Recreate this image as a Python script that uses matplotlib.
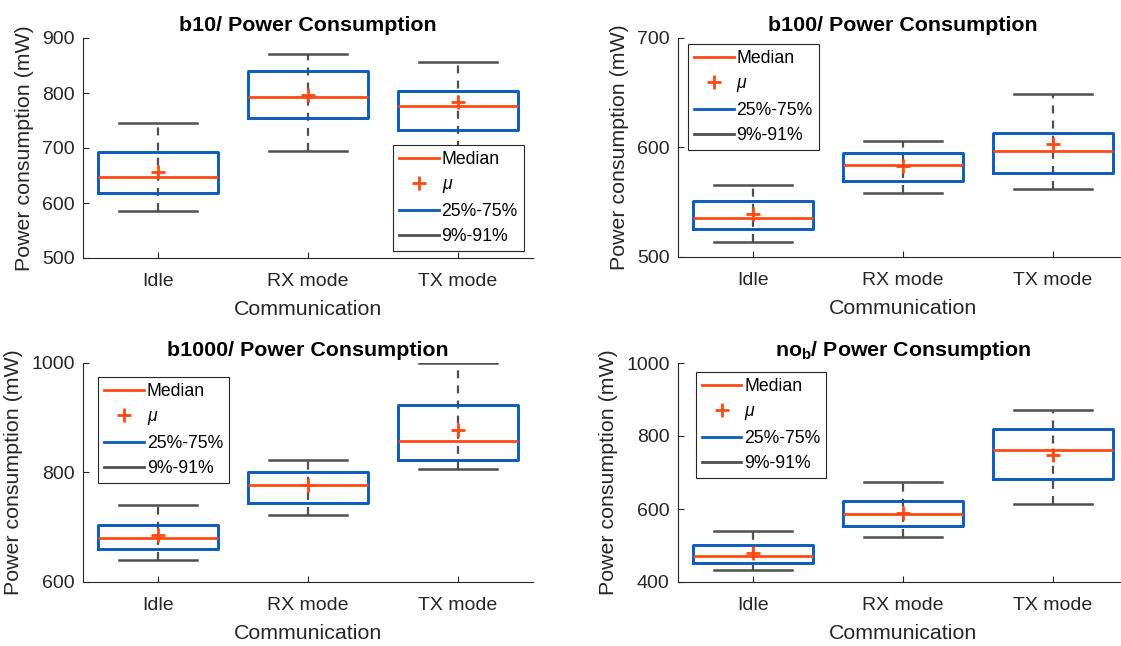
import matplotlib
matplotlib.use("Agg")
import matplotlib.pyplot as plt
from matplotlib.lines import Line2D

plt.rcParams["font.family"] = ["Liberation Sans", "DejaVu Sans"]
plt.rcParams["mathtext.fontset"] = "custom"
plt.rcParams["mathtext.rm"] = "Liberation Sans"
plt.rcParams["mathtext.it"] = "Liberation Sans:italic"
plt.rcParams["mathtext.bf"] = "Liberation Sans:bold"

modes = ["Idle", "RX mode", "TX mode"]

# per panel: 9% low, 25%, median, mean, 75%, 91% high
b10_lo = [585, 695, 699]
b10_q1 = [618, 754, 733]
b10_med = [647, 793, 777]
b10_mean = [657, 796, 784]
b10_q3 = [692, 840, 804]
b10_hi = [745, 871, 856]

b100_lo = [514, 558, 562]
b100_q1 = [526, 569, 577]
b100_med = [536, 584, 597]
b100_mean = [539, 583, 603]
b100_q3 = [551, 595, 613]
b100_hi = [566, 606, 649]

b1000_lo = [641, 722, 806]
b1000_q1 = [660, 745, 822]
b1000_med = [681, 778, 858]
b1000_mean = [686, 777, 878]
b1000_q3 = [705, 800, 923]
b1000_hi = [741, 823, 1000]

nob_lo = [432, 524, 615]
nob_q1 = [451, 554, 683]
nob_med = [472, 585, 763]
nob_mean = [480, 590, 749]
nob_q3 = [501, 623, 820]
nob_hi = [539, 673, 872]

titles = ["b10/ Power Consumption", "b100/ Power Consumption",
          "b1000/ Power Consumption", r"no$_\mathbf{b}$/ Power Consumption"]
ylims = [(500, 900), (500, 700), (600, 1000), (400, 1000)]
yticks = [[500, 600, 700, 800, 900], [500, 600, 700], [600, 800, 1000],
          [400, 600, 800, 1000]]
legend_locs = [("lower right", (0.98, 0.032)), ("upper left", (0.022, 0.973)),
               ("upper left", (0.034, 0.936)), ("upper left", (0.039, 0.96))]

BLUE = "#0a5cbe"
ORANGE = "#ff4a14"
GRAY = "#4f4f4f"
TXT = "#262626"

panels = [
    (b10_lo, b10_q1, b10_med, b10_mean, b10_q3, b10_hi),
    (b100_lo, b100_q1, b100_med, b100_mean, b100_q3, b100_hi),
    (b1000_lo, b1000_q1, b1000_med, b1000_mean, b1000_q3, b1000_hi),
    (nob_lo, nob_q1, nob_med, nob_mean, nob_q3, nob_hi),
]

fig = plt.figure(figsize=(11.21, 6.46), dpi=100)
W, H = 1121, 646
rects = [(83, 38, 450, 220), (678, 38, 450, 219),
         (83, 363, 450, 219), (678, 363, 450, 219)]

for i, (lo, q1, med, mean, q3, hi) in enumerate(panels):
    x0, y0, w, h = rects[i]
    ax = fig.add_axes([x0 / W, 1 - (y0 + h) / H, w / W, h / H])
    pos = [1, 2, 3]

    ax.vlines(pos, lo, hi, colors=GRAY, lw=1.6, linestyles=(0, (3.6, 3.2)),
              zorder=1)
    stats = []
    for k in range(3):
        stats.append(dict(whislo=lo[k], q1=q1[k], med=med[k], mean=mean[k],
                          q3=q3[k], whishi=hi[k], fliers=[], label=modes[k]))
    ax.bxp(stats, positions=pos, widths=0.8, capwidths=0.52, showmeans=True,
           showfliers=False,
           boxprops=dict(color=BLUE, lw=2.1),
           medianprops=dict(color=ORANGE, lw=2.0),
           whiskerprops=dict(linestyle="none"),
           capprops=dict(color=GRAY, lw=1.8),
           meanprops=dict(marker="+", markeredgecolor=ORANGE,
                          markersize=10, markeredgewidth=2.0))

    ax.set_xlim(0.5, 3.5)
    ax.set_ylim(*ylims[i])
    ax.set_yticks(yticks[i])
    ax.set_xticks(pos)
    ax.set_xticklabels(modes)
    for s in ["top", "right"]:
        ax.spines[s].set_visible(False)
    for s in ["left", "bottom"]:
        ax.spines[s].set_color(TXT)
        ax.spines[s].set_linewidth(0.8)
    ax.tick_params(direction="in", length=4, width=0.8, colors=TXT,
                   labelsize=14, pad=6)
    ax.tick_params(axis="x", pad=11)
    ax.set_xlabel("Communication", fontsize=15.4, color=TXT, labelpad=7)
    ax.set_ylabel("Power consumption (mW)", fontsize=15.4, color=TXT,
                  labelpad=6)
    ax.set_title(titles[i], fontsize=15.4, fontweight="bold", color="black",
                 pad=5)

    handles = [
        Line2D([], [], color=ORANGE, lw=2),
        Line2D([], [], color=ORANGE, ls="none", marker="+", markersize=10,
               markeredgewidth=2),
        Line2D([], [], color=BLUE, lw=2),
        Line2D([], [], color=GRAY, lw=2),
    ]
    loc, anchor = legend_locs[i]
    leg = ax.legend(handles, ["Median", r"$\mu$", "25%-75%", "9%-91%"],
                    loc=loc, bbox_to_anchor=anchor, fontsize=12.7,
                    handlelength=2.25, handletextpad=0.15, borderpad=0.35,
                    labelspacing=0.45, borderaxespad=0, fancybox=False,
                    framealpha=1, edgecolor=TXT)
    leg.get_frame().set_linewidth(0.8)

fig.savefig("out.png", dpi=100)
